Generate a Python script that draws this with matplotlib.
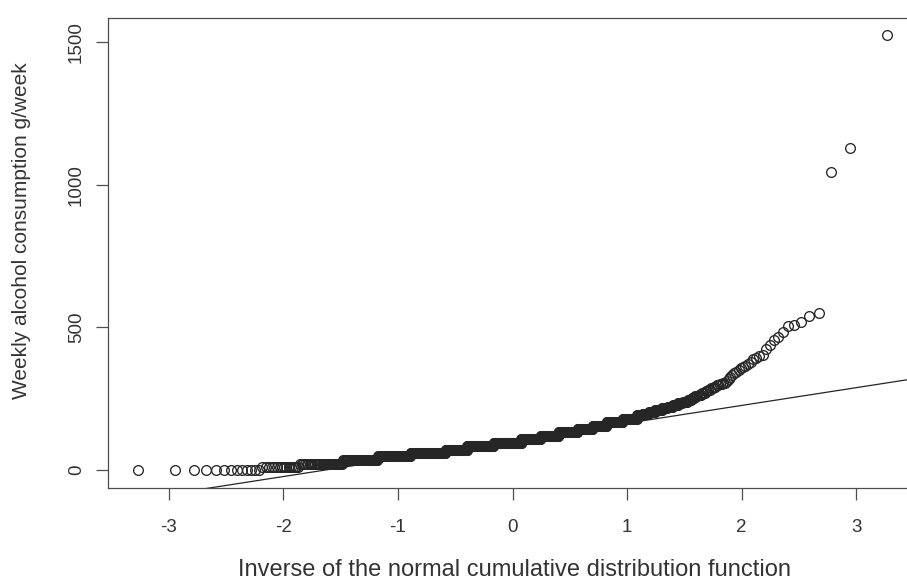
import numpy as np
import matplotlib
matplotlib.use("Agg")
import matplotlib.pyplot as plt
from statistics import NormalDist

# Weekly alcohol consumption (g/week): reported values and number of respondents per value
bulk_values = [0, 10, 22, 35, 48, 60, 72, 84, 96, 108, 120, 132, 144, 156, 168, 180,
               192, 198, 204, 210, 216, 222, 228, 234, 240, 246, 252, 258,
               264, 270, 276, 282, 288, 292, 298, 302, 306]
bulk_counts = [13, 16, 35, 47, 62, 86, 63, 81, 90, 61, 55, 55, 40, 34, 35, 27,
               10, 10, 10, 10, 7, 7, 6, 5, 5, 4, 3, 3,
               3, 3, 2, 2, 2, 2, 2, 2, 2]
# Heavy drinkers in the upper tail, one value per respondent
tail_values = [312, 320, 326, 334, 340, 345, 352, 357, 360, 366, 372, 378, 388,
               393, 400, 405, 425, 440, 456, 466, 484, 505, 508, 519, 540, 550,
               1045, 1129, 1525]

x_ticks = [-3, -2, -1, 0, 1, 2, 3]
y_ticks = [0, 500, 1000, 1500]
x_label = "Inverse of the normal cumulative distribution function"
y_label = "Weekly alcohol consumption g/week"

# Sorted sample and normal scores (ppoints with a = 1/2)
sample = np.sort(np.concatenate([np.repeat(bulk_values, bulk_counts), tail_values]).astype(float))
n = sample.size
nd = NormalDist()
probs = (np.arange(1, n + 1) - 0.5) / n
theo = np.array([nd.inv_cdf(p) for p in probs])

# Reference line through the first and third quartiles
q1, q3 = np.percentile(sample, [25, 75])
z1, z3 = nd.inv_cdf(0.25), nd.inv_cdf(0.75)
slope = (q3 - q1) / (z3 - z1)
intercept = q1 - slope * z1


def padded(lo, hi, frac=0.04):
    span = hi - lo
    return lo - frac * span, hi + frac * span


plt.rcParams["font.family"] = ["Liberation Sans", "DejaVu Sans"]
fig = plt.figure(figsize=(9.07, 5.85), dpi=100)
W, H = 907, 585
left_px, right_px, top_px, bottom_px = 108, 917, 17.5, 487.5
ax = fig.add_axes([left_px / W, (H - bottom_px) / H,
                   (right_px - left_px) / W, (bottom_px - top_px) / H])

ink = "#262626"
ax.plot(theo, sample, linestyle="none", marker="o", markersize=7,
        markerfacecolor="none", markeredgecolor=ink, markeredgewidth=0.95)

xlim = padded(theo.min(), theo.max())
ylim = padded(sample.min(), sample.max())
xs = np.array(xlim)
ax.plot(xs, intercept + slope * xs, color=ink, linewidth=0.9)
ax.set_xlim(xlim)
ax.set_ylim(ylim)

ax.set_xticks(x_ticks)
ax.set_xticklabels([str(t) for t in x_ticks])
ax.set_yticks(y_ticks)
ax.set_yticklabels([str(t) for t in y_ticks], rotation=90, va="center")
ax.tick_params(axis="both", direction="out", length=8.5, width=0.9,
               color="#4d4d4d", labelsize=13.5, labelcolor="#333333")
ax.tick_params(axis="x", pad=14.5)
ax.tick_params(axis="y", pad=8)

for side in ("left", "bottom", "top", "right"):
    ax.spines[side].set_color("#4d4d4d")
    ax.spines[side].set_linewidth(0.9)

ax.set_xlabel(x_label, fontsize=17, color="#333333")
ax.set_ylabel(y_label, fontsize=15, color="#333333")
ax.xaxis.set_label_coords(0.503, (bottom_px - 570) / (bottom_px - top_px))
ax.xaxis.label.set_va("center")
ax.yaxis.set_label_coords((22 - left_px) / (right_px - left_px),
                          (bottom_px - 231) / (bottom_px - top_px))
ax.yaxis.label.set_va("center")

fig.savefig("out.png", dpi=100)
